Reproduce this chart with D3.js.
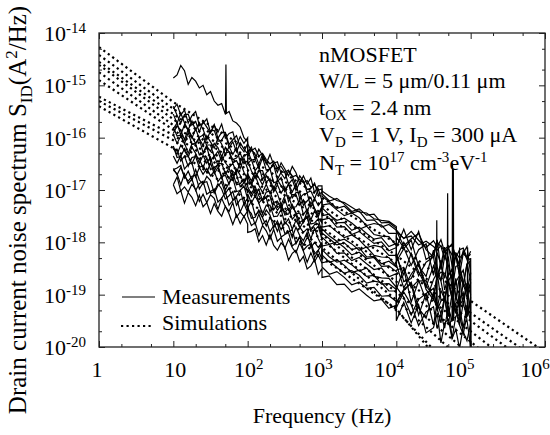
<!DOCTYPE html>
<html>
<head>
<meta charset="utf-8">
<script src="https://cdn.jsdelivr.net/npm/d3@7"></script>
<style>
  body { margin: 0; background: #fff; }
  svg, text, tspan { font-family: "Liberation Serif", "DejaVu Serif", serif; }
  text { fill: #000; }
</style>
</head>
<body>
<script>
// log10 of frequency (Hz) for each measured point; the sweep restarts at 100 Hz, 1 kHz and 10 kHz
const measLogF = [
  1.00, 1.05, 1.10, 1.15, 1.20, 1.25, 1.30, 1.35, 1.40, 1.45, 1.50, 1.55, 1.60, 1.65, 1.70, 1.75, 1.80, 1.85, 1.90, 1.95, 2.00,
  2.00, 2.05, 2.10, 2.15, 2.20, 2.25, 2.30, 2.35, 2.40, 2.45, 2.50, 2.55, 2.60, 2.65, 2.70, 2.75, 2.80, 2.85, 2.90, 2.95, 3.00,
  3.0, 3.1, 3.2, 3.3, 3.4, 3.5, 3.6, 3.7, 3.8, 3.9, 4.0,
  4.0, 4.1, 4.2, 4.3, 4.4, 4.5, 4.55, 4.6, 4.65, 4.7, 4.75, 4.8, 4.85, 4.9, 4.95, 5.0];

// log10 of S_ID (A^2/Hz), one array per measured device
const meas0 = [
  -14.86, -14.80, -14.62, -14.72, -14.98, -14.85, -14.92, -15.05, -15.00, -15.18, -15.12, -15.30, -15.38, -15.35, -15.55, -15.50, -15.68, -15.72, -15.80, -16.00, -16.08,
  -16.12, -16.25, -16.20, -16.35, -16.30, -16.42, -16.50, -16.45, -16.58, -16.55, -16.66, -16.62, -16.75, -16.72, -16.80, -16.86, -16.82, -16.95, -16.90, -17.00, -16.98,
  -17.02, -17.12, -17.20, -17.24, -17.33, -17.42, -17.44, -17.55, -17.58, -17.60, -17.70,
  -17.80, -17.92, -17.88, -18.05, -17.98, -18.08, -18.15, -18.06, -18.18, -18.12, -18.24, -18.20, -18.30, -18.22, -18.28, -18.34];
const meas1 = [
  -15.45, -15.36, -15.57, -15.47, -15.72, -15.58, -15.50, -15.76, -15.73, -15.64, -15.90, -15.76, -15.90, -15.74, -16.01, -15.92, -15.89, -16.15, -15.98, -16.11, -16.00,
  -16.28, -16.18, -16.41, -16.22, -16.34, -16.50, -16.32, -16.52, -16.66, -16.48, -16.60, -16.73, -16.55, -16.67, -16.87, -16.73, -16.89, -16.77, -17.05, -16.92, -16.92,
  -17.07, -17.21, -17.16, -17.27, -17.41, -17.36, -17.48, -17.46, -17.63, -17.62, -17.73,
  -17.76, -17.93, -17.79, -17.96, -18.10, -17.97, -18.09, -17.95, -18.19, -18.10, -18.06, -18.30, -18.14, -18.11, -18.29, -18.23];
const meas2 = [
  -15.55, -15.73, -15.53, -15.72, -15.85, -15.68, -15.86, -15.71, -15.84, -16.04, -15.87, -15.86, -16.07, -16.05, -15.92, -16.19, -16.08, -16.27, -16.10, -16.22, -16.31,
  -16.25, -16.43, -16.41, -16.59, -16.38, -16.62, -16.60, -16.52, -16.80, -16.66, -16.66, -16.89, -16.80, -17.01, -16.85, -16.83, -17.05, -17.02, -17.17, -16.98, -17.20,
  -17.29, -17.26, -17.38, -17.49, -17.44, -17.53, -17.68, -17.64, -17.67, -17.83, -17.83,
  -18.10, -17.75, -18.14, -17.79, -18.33, -18.23, -17.95, -18.52, -18.14, -18.07, -18.44, -18.26, -18.63, -18.21, -18.08, -18.60];
const meas3 = [
  -15.83, -15.72, -15.95, -15.75, -15.86, -16.01, -15.83, -16.02, -16.15, -15.96, -16.08, -16.20, -16.01, -16.12, -16.32, -16.17, -16.32, -16.19, -16.47, -16.33, -16.32,
  -16.50, -16.42, -16.63, -16.54, -16.80, -16.67, -16.59, -16.86, -16.84, -16.76, -17.02, -16.89, -17.04, -16.89, -17.16, -17.08, -17.06, -17.33, -17.16, -17.30, -17.20,
  -17.34, -17.48, -17.58, -17.54, -17.63, -17.75, -17.69, -17.85, -17.88, -17.89, -18.06,
  -17.90, -18.10, -18.44, -18.14, -18.03, -18.63, -18.20, -18.42, -18.09, -18.62, -18.54, -18.21, -18.63, -18.81, -18.43, -18.35];
const meas4 = [
  -15.80, -15.97, -15.95, -16.12, -15.90, -16.13, -16.11, -16.02, -16.29, -16.14, -16.14, -16.36, -16.26, -16.46, -16.30, -16.27, -16.48, -16.44, -16.59, -16.39, -16.60,
  -16.72, -16.91, -16.71, -16.91, -17.05, -16.89, -17.07, -16.93, -17.07, -17.28, -17.11, -17.11, -17.33, -17.32, -17.19, -17.47, -17.37, -17.57, -17.40, -17.53, -17.63,
  -17.57, -17.54, -17.71, -17.70, -17.85, -17.79, -17.91, -18.02, -17.99, -18.16, -18.10,
  -18.30, -18.00, -18.24, -18.64, -18.38, -18.28, -18.70, -18.42, -18.69, -18.27, -18.89, -18.46, -18.43, -18.76, -18.93, -18.60];
const meas5 = [
  -15.94, -16.11, -15.97, -16.10, -16.30, -16.12, -16.12, -16.33, -16.31, -16.17, -16.45, -16.34, -16.53, -16.35, -16.48, -16.57, -16.49, -16.67, -16.47, -16.66, -16.79,
  -16.69, -16.83, -16.65, -16.77, -16.90, -16.72, -16.84, -17.04, -16.90, -17.06, -16.94, -17.22, -17.09, -17.09, -17.29, -17.19, -17.42, -17.23, -17.35, -17.51, -17.33,
  -17.71, -17.68, -17.80, -17.91, -17.86, -17.95, -18.10, -18.06, -18.09, -18.25, -18.25,
  -18.27, -18.62, -18.21, -18.56, -18.85, -18.45, -18.72, -18.34, -18.91, -18.64, -18.51, -19.08, -18.65, -18.53, -18.95, -18.77];
const meas6 = [
  -16.19, -16.32, -16.14, -16.25, -16.37, -16.18, -16.30, -16.49, -16.34, -16.49, -16.37, -16.64, -16.50, -16.49, -16.69, -16.58, -16.80, -16.60, -16.72, -16.87, -16.68,
  -16.85, -16.85, -17.08, -16.99, -17.20, -17.04, -17.02, -17.24, -17.21, -17.36, -17.17, -17.39, -17.28, -17.46, -17.44, -17.62, -17.41, -17.65, -17.63, -17.55, -17.83,
  -17.74, -17.88, -17.98, -17.94, -18.03, -18.15, -18.09, -18.25, -18.28, -18.29, -18.46,
  -18.20, -18.75, -18.69, -18.39, -18.83, -19.03, -18.65, -18.57, -18.59, -18.77, -19.09, -18.76, -18.63, -19.21, -18.78, -19.00];
const meas7 = [
  -16.23, -16.22, -16.45, -16.35, -16.55, -16.38, -16.36, -16.57, -16.53, -16.67, -16.48, -16.69, -16.57, -16.74, -16.72, -16.89, -16.67, -16.90, -16.88, -16.79, -17.06,
  -16.98, -17.13, -16.98, -17.25, -17.17, -17.15, -17.42, -17.25, -17.39, -17.29, -17.43, -17.35, -17.56, -17.47, -17.73, -17.60, -17.52, -17.79, -17.77, -17.69, -17.95,
  -17.90, -18.04, -17.99, -18.10, -18.24, -18.19, -18.31, -18.29, -18.46, -18.45, -18.56,
  -18.53, -18.48, -18.87, -18.72, -19.11, -18.71, -18.58, -19.10, -19.07, -18.70, -19.07, -18.69, -19.21, -19.09, -18.81, -19.38];
const meas8 = [
  -16.35, -16.49, -16.34, -16.60, -16.51, -16.48, -16.75, -16.57, -16.70, -16.59, -16.73, -16.64, -16.84, -16.74, -17.00, -16.86, -16.77, -17.03, -17.01, -16.92, -17.17,
  -17.07, -17.25, -17.11, -17.25, -17.46, -17.29, -17.29, -17.51, -17.50, -17.37, -17.65, -17.55, -17.75, -17.58, -17.71, -17.81, -17.74, -17.93, -17.73, -17.93, -18.07,
  -18.07, -18.04, -18.21, -18.20, -18.35, -18.29, -18.41, -18.52, -18.49, -18.66, -18.60,
  -18.90, -18.50, -19.14, -18.74, -18.73, -19.08, -19.25, -18.92, -19.09, -18.77, -18.99, -19.36, -19.08, -18.96, -19.38, -19.10];
const meas9 = [
  -16.61, -16.58, -16.53, -16.77, -16.64, -16.81, -16.61, -16.81, -16.89, -16.74, -16.82, -17.06, -16.92, -16.85, -17.07, -16.96, -17.19, -17.12, -17.00, -17.27, -17.15,
  -17.37, -17.45, -17.66, -17.46, -17.66, -17.58, -17.80, -17.68, -17.64, -17.90, -17.85, -17.81, -18.07, -18.01, -17.89, -18.15, -18.07, -18.03, -18.30, -18.15, -18.33,
  -18.14, -18.28, -18.38, -18.34, -18.43, -18.55, -18.49, -18.65, -18.68, -18.69, -18.86,
  -19.15, -18.90, -18.79, -19.39, -18.98, -18.88, -19.30, -19.12, -19.09, -19.42, -18.99, -19.31, -19.58, -19.16, -19.43, -19.05];
const meas10 = [
  -16.62, -16.69, -16.90, -16.69, -16.88, -16.79, -17.01, -16.88, -16.83, -17.08, -17.03, -16.98, -17.23, -17.16, -17.04, -17.29, -17.20, -17.15, -17.42, -17.26, -17.43,
  -17.35, -17.21, -17.48, -17.41, -17.52, -17.38, -17.48, -17.72, -17.59, -17.76, -17.61, -17.69, -17.91, -17.71, -17.87, -17.97, -17.81, -18.10, -18.00, -18.10, -18.00,
  -18.39, -18.36, -18.48, -18.59, -18.54, -18.63, -18.78, -18.74, -18.77, -18.93, -18.93,
  -18.85, -19.05, -19.39, -19.09, -18.98, -19.58, -19.15, -19.37, -19.04, -19.57, -19.49, -19.16, -19.58, -19.76, -19.38, -19.30];
const meas11 = [
  -16.90, -16.75, -17.02, -16.94, -17.04, -16.89, -16.99, -17.22, -17.08, -17.24, -17.09, -17.16, -17.37, -17.16, -17.32, -17.41, -17.24, -17.52, -17.42, -17.51, -17.40,
  -17.50, -17.68, -17.62, -17.87, -17.68, -17.78, -17.94, -17.75, -17.98, -17.91, -18.12, -17.94, -18.10, -18.20, -18.01, -18.17, -18.38, -18.20, -18.37, -18.24, -18.40,
  -18.47, -18.61, -18.56, -18.67, -18.81, -18.76, -18.88, -18.86, -19.03, -19.02, -19.13,
  -19.25, -18.95, -19.19, -19.59, -19.33, -19.23, -19.65, -19.37, -19.64, -19.22, -19.84, -19.41, -19.38, -19.71, -19.88, -19.55];
const meas12 = [
  -16.90, -17.07, -17.01, -17.25, -17.05, -17.14, -17.30, -17.10, -17.32, -17.24, -17.45, -17.26, -17.41, -17.50, -17.31, -17.46, -17.66, -17.47, -17.64, -17.50, -17.65,
  -17.81, -17.79, -17.74, -17.99, -17.87, -18.05, -17.85, -18.06, -18.15, -18.01, -18.09, -18.34, -18.21, -18.15, -18.37, -18.27, -18.51, -18.45, -18.33, -18.61, -18.50,
  -18.67, -18.64, -18.81, -18.80, -18.95, -18.89, -19.01, -19.12, -19.09, -19.26, -19.20,
  -19.50, -19.15, -19.54, -19.19, -19.73, -19.63, -19.35, -19.92, -19.54, -19.47, -19.84, -19.66, -20.03, -19.61, -19.48, -20.00];
const meas13 = [
  -15.40, -15.57, -15.72, -15.56, -15.55, -15.76, -15.69, -15.89, -15.69, -15.80, -15.91, -15.75, -16.01, -15.90, -15.90, -16.13, -16.04, -15.96, -16.18, -16.27, -16.11,
  -16.37, -16.23, -16.32, -16.51, -16.32, -16.47, -16.60, -16.49, -16.46, -16.68, -16.78, -16.64, -16.73, -16.92, -16.73, -16.83, -16.99, -16.97, -16.87, -17.09, -17.04,
  -17.12, -17.23, -17.35, -17.31, -17.44, -17.40, -17.58, -17.57, -17.71, -17.66, -17.77,
  -17.78, -18.07, -17.93, -17.83, -18.14, -18.28, -18.00, -18.08, -18.31, -18.10, -18.03, -18.29, -18.43, -18.16, -18.33, -18.17];
const meas14 = [
  -15.92, -15.77, -15.86, -16.04, -15.84, -15.98, -16.11, -15.99, -15.95, -16.16, -16.26, -16.11, -16.19, -16.37, -16.18, -16.27, -16.42, -16.39, -16.29, -16.50, -16.44,
  -16.45, -16.63, -16.78, -16.63, -16.63, -16.85, -16.78, -16.99, -16.80, -16.92, -17.03, -16.88, -17.15, -17.05, -17.05, -17.29, -17.21, -17.14, -17.36, -17.46, -17.31,
  -17.49, -17.46, -17.63, -17.62, -17.77, -17.71, -17.83, -17.94, -17.91, -18.08, -18.02,
  -18.37, -18.12, -17.96, -18.46, -18.65, -18.15, -18.47, -18.74, -18.26, -18.44, -18.71, -18.23, -18.45, -18.83, -18.40, -18.72];
const meas15 = [
  -16.16, -16.38, -16.36, -16.21, -16.35, -16.50, -16.34, -16.41, -16.58, -16.38, -16.61, -16.57, -16.52, -16.78, -16.65, -16.79, -16.64, -16.71, -16.94, -16.86, -16.75,
  -16.94, -17.07, -16.93, -17.11, -17.21, -17.13, -17.11, -17.38, -17.27, -17.26, -17.48, -17.46, -17.32, -17.43, -17.62, -17.57, -17.50, -17.77, -17.66, -17.65, -17.87,
  -17.82, -17.93, -18.05, -18.01, -18.14, -18.10, -18.28, -18.27, -18.41, -18.36, -18.47,
  -18.42, -18.87, -18.61, -18.41, -18.90, -19.10, -18.62, -18.74, -19.11, -18.74, -18.61, -19.03, -19.25, -18.78, -19.05, -18.77];
const meas16 = [
  -16.59, -16.71, -16.57, -16.74, -16.83, -16.74, -16.72, -16.98, -16.86, -16.84, -17.06, -17.03, -16.88, -16.98, -17.17, -17.11, -17.03, -17.29, -17.18, -17.16, -17.37,
  -17.31, -17.54, -17.52, -17.38, -17.53, -17.69, -17.53, -17.61, -17.79, -17.60, -17.83, -17.80, -17.76, -18.03, -17.90, -18.05, -17.91, -17.99, -18.22, -18.15, -18.05,
  -18.24, -18.38, -18.33, -18.44, -18.58, -18.53, -18.65, -18.63, -18.80, -18.79, -18.90,
  -19.17, -18.92, -18.76, -19.26, -19.45, -18.95, -19.27, -19.54, -19.06, -19.24, -19.51, -19.03, -19.25, -19.63, -19.20, -19.52];
const measSeries = [meas0, meas1, meas2, meas3, meas4, meas5, meas6, meas7, meas8,
  meas9, meas10, meas11, meas12, meas13, meas14, meas15, meas16];

// narrow interference peaks in the measured spectra (Hz, log10 of peak top and foot)
const spikeFreq = [51, 35000, 49000, 57000, 58500, 71000, 91000, 100000];
const spikeTop = [-14.60, -17.58, -17.06, -16.49, -16.60, -18.10, -18.10, -18.30];
const spikeFoot = [-15.55, -19.30, -19.40, -19.50, -19.50, -19.50, -19.40, -20.00];

// simulated spectra, log10 of S_ID at each decade
const simFreq = [1, 10, 100, 1e3, 1e4, 1e5, 1e6];
const sim1 = [-14.27, -15.32, -16.22, -17.15, -18.02, -19.12, -20.10];
const sim2 = [-14.42, -15.45, -16.38, -17.30, -18.25, -19.35, -20.35];
const sim3 = [-14.55, -15.55, -16.50, -17.45, -18.40, -19.50, -20.55];
const sim4 = [-14.61, -15.65, -16.62, -17.58, -18.58, -19.70, -20.80];
const sim5 = [-14.75, -15.76, -16.75, -17.72, -18.75, -19.90, -21.05];
const sim6 = [-14.90, -15.85, -16.85, -17.85, -18.95, -20.15, -21.30];
const sim7 = [-15.22, -15.95, -16.90, -17.95, -19.10, -20.40, -21.60];
const sim8 = [-15.30, -16.05, -17.00, -18.10, -19.30, -20.80, -22.20];
const sim9 = [-15.40, -16.20, -17.20, -18.30, -19.27, -21.00, -23.00];
const simSeries = [sim1, sim2, sim3, sim4, sim5, sim6, sim7, sim8, sim9];

// axis ticks
const xMajorExp = [0, 1, 2, 3, 4, 5, 6];
const xLabelShift = [-2, 2, 1, -4, -7, -11, -10];
const yMajorExp = [-14, -15, -16, -17, -18, -19, -20];
const minorMult = [2, 5];

const width = 550, height = 435;
const plot = { left: 99, right: 545, top: 33, bottom: 347 };
const serif = "Liberation Serif, DejaVu Serif, serif";

const svg = d3.select("body").append("svg")
  .attr("width", width)
  .attr("height", height)
  .attr("font-family", serif);

const x = d3.scaleLog().domain([1, 1e6]).range([plot.left, plot.right]);
const y = d3.scaleLog().domain([1e-20, 1e-14]).range([plot.bottom, plot.top]);
const pow = e => Math.pow(10, e);

svg.append("clipPath").attr("id", "clip")
  .append("rect")
  .attr("x", plot.left).attr("y", plot.top)
  .attr("width", plot.right - plot.left)
  .attr("height", plot.bottom - plot.top);

// text with sub/superscript parts
function rich(sel, parts, size) {
  let shift = 0;
  sel.attr("font-family", serif);
  parts.forEach(([s, mode]) => {
    const target = mode === "sub" ? size * 0.22 : mode === "sup" ? -size * 0.36 : 0;
    sel.append("tspan")
      .attr("dy", target - shift)
      .attr("font-size", mode === "n" ? size : Math.round(size * 0.66))
      .text(s);
    shift = target;
  });
}

// ticks (pointing inwards on all four sides)
const xMajor = xMajorExp.map(pow);
const yMajor = yMajorExp.map(pow);
const xMinor = xMajorExp.slice(0, -1).flatMap(e => minorMult.map(k => k * pow(e)));
const yMinor = yMajorExp.slice(1).flatMap(e => minorMult.map(k => k * pow(e)));

function ticks(axis, values, size, transform) {
  svg.append("g")
    .attr("transform", transform)
    .attr("color", "#222")
    .call(axis.tickValues(values).tickSize(-size).tickFormat(""))
    .call(g => g.select(".domain").remove());
}
ticks(d3.axisBottom(x), xMajor, 6, `translate(0,${plot.bottom})`);
ticks(d3.axisBottom(x), xMinor, 3, `translate(0,${plot.bottom})`);
ticks(d3.axisTop(x), xMajor, 6, `translate(0,${plot.top})`);
ticks(d3.axisTop(x), xMinor, 3, `translate(0,${plot.top})`);
ticks(d3.axisLeft(y), yMajor, 6, `translate(${plot.left},0)`);
ticks(d3.axisLeft(y), yMinor, 3, `translate(${plot.left},0)`);
ticks(d3.axisRight(y), yMajor, 6, `translate(${plot.right},0)`);
ticks(d3.axisRight(y), yMinor, 3, `translate(${plot.right},0)`);

// tick labels
xMajorExp.forEach((e, i) => {
  const t = svg.append("text")
    .attr("x", x(pow(e)) + xLabelShift[i])
    .attr("y", 377)
    .attr("text-anchor", "middle");
  if (e === 0) rich(t, [["1", "n"]], 22);
  else if (e === 1) rich(t, [["10", "n"]], 22);
  else rich(t, [["10", "n"], [String(e), "sup"]], 22);
});
yMajorExp.forEach(e => {
  const t = svg.append("text")
    .attr("x", 86)
    .attr("y", y(pow(e)) + 8)
    .attr("text-anchor", "end");
  rich(t, [["10", "n"], [String(e), "sup"]], 22);
});

// measured spectra
const line = d3.line()
  .x(d => x(pow(d[0])))
  .y(d => y(pow(d[1])));

const dataLayer = svg.append("g").attr("clip-path", "url(#clip)");

dataLayer.selectAll("path.meas")
  .data(measSeries)
  .join("path")
  .attr("class", "meas")
  .attr("d", s => line(s.map((v, i) => [measLogF[i], v])))
  .attr("fill", "none")
  .attr("stroke", "#000")
  .attr("stroke-width", 1.2);

dataLayer.selectAll("path.spike")
  .data(spikeFreq.map((f, i) => ({ f, top: spikeTop[i], foot: spikeFoot[i] })))
  .join("path")
  .attr("class", "spike")
  .attr("d", d => {
    const lf = Math.log10(d.f);
    return line([[lf - 0.006, d.foot], [lf, d.top], [lf + 0.006, d.foot]]);
  })
  .attr("fill", "none")
  .attr("stroke", "#000")
  .attr("stroke-width", 1.2);

// simulated spectra (dotted)
const dots = "2.2,3.3";
dataLayer.selectAll("path.sim")
  .data(simSeries)
  .join("path")
  .attr("class", "sim")
  .attr("d", s => line(s.map((v, i) => [Math.log10(simFreq[i]), v])))
  .attr("fill", "none")
  .attr("stroke", "#000")
  .attr("stroke-width", 2.2)
  .attr("stroke-dasharray", dots);

// frame
svg.append("rect")
  .attr("x", plot.left).attr("y", plot.top)
  .attr("width", plot.right - plot.left)
  .attr("height", plot.bottom - plot.top)
  .attr("fill", "none")
  .attr("stroke", "#222")
  .attr("stroke-width", 1.3);

// annotation
const notes = [
  [["nMOSFET", "n"]],
  [["W/L = 5 \u03bcm/0.11 \u03bcm", "n"]],
  [["t", "n"], ["OX", "sub"], [" = 2.4 nm", "n"]],
  [["V", "n"], ["D", "sub"], [" = 1 V, I", "n"], ["D", "sub"], [" = 300 \u03bcA", "n"]],
  [["N", "n"], ["T", "sub"], [" = 10", "n"], ["17", "sup"], [" cm", "n"], ["-3", "sup"], ["eV", "n"], ["-1", "sup"]]
];
const noteY = [62, 88, 115, 142, 170];
notes.forEach((parts, i) => {
  const t = svg.append("text").attr("x", 319).attr("y", noteY[i]);
  rich(t, parts, 22);
});

// legend
svg.append("line")
  .attr("x1", 122).attr("x2", 155).attr("y1", 297).attr("y2", 297)
  .attr("stroke", "#000").attr("stroke-width", 1.2);
svg.append("line")
  .attr("x1", 121).attr("x2", 153).attr("y1", 326).attr("y2", 326)
  .attr("stroke", "#000").attr("stroke-width", 2.2)
  .attr("stroke-dasharray", dots);
svg.append("text").attr("x", 162).attr("y", 304).attr("font-size", 22)
  .attr("font-family", serif).text("Measurements");
svg.append("text").attr("x", 162).attr("y", 330).attr("font-size", 22)
  .attr("font-family", serif).text("Simulations");

// axis titles
svg.append("text")
  .attr("x", (plot.left + plot.right) / 2)
  .attr("y", 423)
  .attr("text-anchor", "middle")
  .attr("font-size", 22)
  .attr("font-family", serif)
  .text("Frequency (Hz)");

const yTitle = svg.append("text")
  .attr("transform", "translate(26,210) rotate(-90)")
  .attr("text-anchor", "middle");
rich(yTitle, [["Drain current noise spectrum S", "n"], ["ID", "sub"], ["(A", "n"], ["2", "sup"], ["/Hz)", "n"]], 25);
</script>
</body>
</html>
